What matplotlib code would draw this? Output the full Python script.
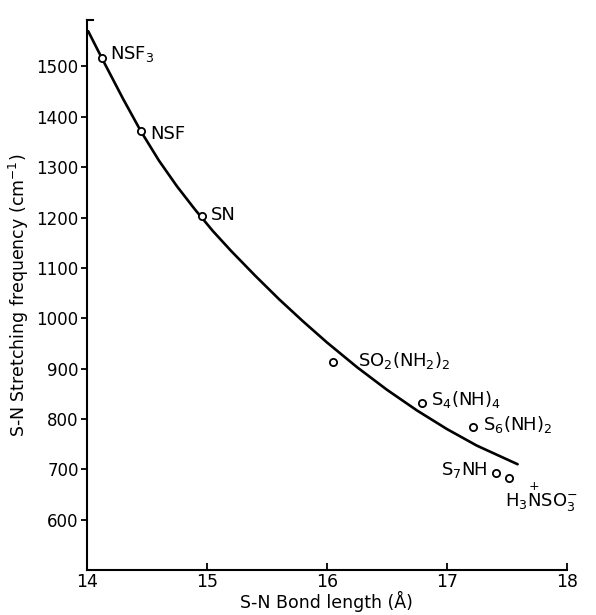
import matplotlib
matplotlib.use("Agg")
import matplotlib.pyplot as plt

plt.rcParams['font.family'] = ['DejaVu Sans']
plt.rcParams['mathtext.default'] = 'regular'

# Data points (bond length in 0.1 Å, frequency cm^-1)
compounds = ["NSF$_3$", "NSF", "SN", "SO$_2$(NH$_2$)$_2$", "S$_4$(NH)$_4$",
             "S$_6$(NH)$_2$", "S$_7$NH", r"H$_3\overset{+}{N}$SO$_3^{-}$"]
bond_length = [14.125, 14.45, 14.96, 16.05, 16.79, 17.22, 17.41, 17.52]
frequency = [1516, 1372, 1203, 914, 831, 783, 693, 683]

# Fitted curve
curve_x = [14.01, 14.125, 14.3, 14.45, 14.6, 14.75, 14.9, 15.05, 15.2, 15.4,
           15.6, 15.8, 16.0, 16.25, 16.5, 16.75, 17.0, 17.25, 17.59]
curve_y = [1570, 1516, 1436, 1371, 1313, 1262, 1216, 1173, 1134, 1085,
           1038, 994, 952, 903, 858, 817, 780, 747, 710]

x_ticks = [14, 15, 16, 17, 18]
y_ticks = [600, 700, 800, 900, 1000, 1100, 1200, 1300, 1400, 1500]

# label offsets in points (style)
offsets = [(6, 3, 'left'), (7, -2, 'left'), (6, 1, 'left'), (18, 1, 'left'),
           (7, 3, 'left'), (7, 2, 'left'), (-6, 2, 'right'), (-3, -14, 'left')]

fig = plt.figure(figsize=(5.96, 6.15), dpi=100)
ax = fig.add_axes([0.146, 0.0732, 0.805, 0.894])

ax.plot(curve_x, curve_y, color='black', lw=1.9, solid_capstyle='round',
        solid_joinstyle='round')
ax.plot(bond_length, frequency, 'o', mfc='white', mec='black', ms=5.2, mew=1.3)

for name, x, y, (dx, dy, ha) in zip(compounds, bond_length, frequency, offsets):
    ax.annotate(name, (x, y), xytext=(dx, dy), textcoords='offset points',
                ha=ha, va='center', fontsize=13)

ax.set_xlim(14, 18)
ax.set_ylim(500, 1592)
ax.set_xticks(x_ticks)
ax.set_xticklabels([str(t) for t in x_ticks])
ax.set_yticks(y_ticks)
ax.set_yticklabels([str(t) for t in y_ticks])

for s in ['top', 'right']:
    ax.spines[s].set_visible(False)
for s in ['left', 'bottom']:
    ax.spines[s].set_linewidth(1.5)

ax.tick_params(axis='x', direction='in', length=5, width=1.3, labelsize=12.5, pad=2)
ax.tick_params(axis='y', direction='out', length=4, width=1.3, labelsize=12, pad=2)

# small bracket at top of y axis
ax.plot([0, 0.012], [1, 1], transform=ax.transAxes, color='black', lw=1.5, clip_on=False)

ax.set_xlabel("S-N Bond length (Å)", fontsize=12.5, labelpad=0)
ax.set_ylabel("S-N Stretching frequency (cm$^{-1}$)", fontsize=12.5, labelpad=4)

fig.savefig("out.png", dpi=100)
